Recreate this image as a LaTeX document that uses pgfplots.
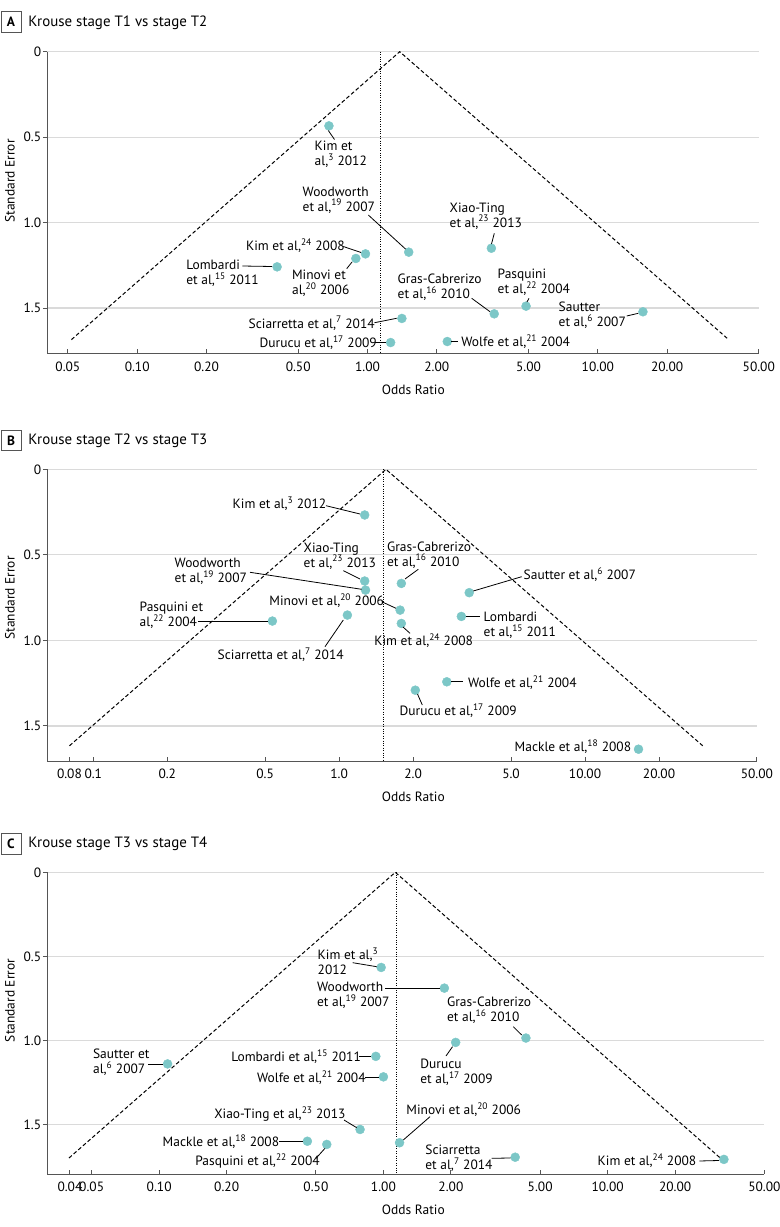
\documentclass[border=0pt]{standalone}
\usepackage{pgfplots}
\pgfplotsset{compat=1.18}
\usepackage{fontspec}
\setmainfont{PT Sans}
\definecolor{dot}{HTML}{7CC7C7}
\definecolor{axgray}{HTML}{555555}
\definecolor{gridgray}{HTML}{DADADA}
\newcommand{\labfont}{\fontsize{13.5}{15}\selectfont}
\newcommand{\lab}[3]{\node[anchor=west,align=left,inner sep=0pt,font=\labfont] at (#1,#2) {#3};}
\pgfplotsset{
 myfunnel/.style={
   scale only axis,
   y dir=reverse,
   ymin=0, xmax=50,
   clip=false,
   axis x line*=bottom, axis y line*=left,
   axis line style={axgray, line width=0.9bp, -},
   ytick={0,0.5,1,1.5}, yticklabels={0,0.5,1.0,1.5},
   ymajorgrids, grid style={gridgray, line width=1.2bp},
   xminorticks=false, yminorticks=false,
   tick align=inside,
   major tick length=4.5bp,
   tick style={axgray, line width=0.9bp},
   y tick style={xshift=-4.5bp},
   tick label style={font=\labfont},
   yticklabel style={inner sep=1.5bp, xshift=-4.5bp},
   xticklabel style={inner sep=0pt, yshift=-8bp},
 },
 mydots/.style={only marks, mark=*, mark size=4.5bp, mark options={fill=dot, draw=dot}},
 myfun/.style={black, line width=1bp, dash pattern=on 3.8bp off 2.4bp},
 myvdot/.style={black, line width=0.8bp, dash pattern=on 0.9bp off 1.5bp},
}
\begin{document}
\begin{tikzpicture}
\path[use as bounding box] (0,0) rectangle (780bp,-1227bp);

% ---------------- Panel A
\begin{axis}[xmode=log, log basis x=10, myfunnel, at={(47.3bp,-51.7bp)}, anchor=north west,
  width=711.5bp, height=301.6bp, xmin=0.0407, ymax=1.765,
  xtick={0.05,0.1,0.2,0.5,1,2,5,10,20,50},
  xticklabels={0.05,0.10,0.20,0.50,1.00,2.00,5.00,10.00,20.00,50.00}]
\addplot[myfun] coordinates {(0.0518,1.685) (1.38,0) (37.0,1.685)};
\addplot[myvdot] coordinates {(1.14,0) (1.14,1.765)};
\addplot[mydots] coordinates {
 (0.68,0.434) (1.51,1.173) (3.45,1.150) (0.98,1.183) (0.89,1.210) (0.405,1.259)
 (3.55,1.534) (4.88,1.489) (15.7,1.522) (1.41,1.561) (1.26,1.702) (2.22,1.696)};
\end{axis}

% ---------------- Panel B
\begin{axis}[xmode=log, log basis x=10, myfunnel, at={(47.3bp,-469.3bp)}, anchor=north west,
  width=709.6bp, height=291.7bp, xmin=0.065, ymax=1.705,
  xtick={0.08,0.1,0.2,0.5,1,2,5,10,20,50},
  xticklabels={0.08,0.1,0.2,0.5,1.0,2.0,5.0,10.00,20.00,50.00}]
\addplot[myfun] coordinates {(0.080,1.616) (1.55,0) (30.1,1.616)};
\addplot[myvdot] coordinates {(1.51,0) (1.51,1.705)};
\addplot[mydots] coordinates {
 (1.27,0.267) (1.27,0.653) (1.28,0.706) (1.79,0.667) (3.38,0.721) (1.77,0.823)
 (1.79,0.901) (3.14,0.860) (0.535,0.887) (1.08,0.852) (2.74,1.242) (2.04,1.291)
 (16.5,1.636)};
\end{axis}

% ---------------- Panel C
\begin{axis}[xmode=log, log basis x=10, myfunnel, at={(47.3bp,-872.3bp)}, anchor=north west,
  width=717.1bp, height=301.7bp, xmin=0.0317, ymax=1.795,
  xtick={0.04,0.05,0.1,0.2,0.5,1,2,5,10,20,50},
  xticklabels={0.04,0.05,0.10,0.20,0.50,1.00,2.00,5.00,10.00,20.00,50.00}]
\addplot[myfun] coordinates {(0.0396,1.70) (1.13,0) (31.8,1.70)};
\addplot[myvdot] coordinates {(1.145,0) (1.145,1.795)};
\addplot[mydots] coordinates {
 (0.977,0.566) (1.87,0.689) (4.32,0.986) (2.10,1.012) (0.109,1.140) (0.925,1.095)
 (1.00,1.217) (0.787,1.530) (0.458,1.600) (0.559,1.619) (1.18,1.609) (3.87,1.695)
 (33.0,1.708)};
\end{axis}

\begin{scope}[x=1bp,y=-1bp]
% titles
\foreach \yy/\tt/\ll in {11.7/Krouse stage T1 vs stage T2/A, 430/Krouse stage T2 vs stage T3/B, 833.3/Krouse stage T3 vs stage T4/C}{
  \draw[axgray, line width=0.8bp] (1,\yy) rectangle (21,\yy+20.6);
  \node[font=\fontsize{13.5}{15}\selectfont\bfseries, inner sep=0pt] at (11,\yy+10.3) {\ll};
  \node[anchor=west, inner sep=0pt, font=\fontsize{15}{17}\selectfont] at (28.3,\yy+10.6) {\tt};
}
% axis labels
\foreach \yy in {181,598,1000.5}{
  \node[rotate=90, inner sep=0pt, font=\labfont] at (10,\yy) {Standard Error};
}
\foreach \yy in {390,796.7,1210}{
  \node[inner sep=0pt, font=\labfont] at (413.3,\yy) {Odds Ratio};
}

\begin{scope}[line width=0.8bp, black]
% ---- Panel A labels
\lab{314.3}{154.2}{Kim et\\al,\textsuperscript{3} 2012}
\draw (328.3,130.5) -- (334.5,139.5);
\lab{302.3}{200}{Woodworth\\et al,\textsuperscript{19} 2007}
\draw (368.3,215) -- (405.5,249);
\lab{449.3}{215.8}{Xiao-Ting\\et al,\textsuperscript{23} 2013}
\draw (494.3,233.3) -- (491.5,244);
\lab{245.7}{246}{Kim et al,\textsuperscript{24} 2008}
\draw (343.3,246.5) -- (361,252.5);
\lab{186}{273.3}{Lombardi\\et al,\textsuperscript{15} 2011}
\draw (242.3,266) -- (272,266.5);
\lab{291.7}{283.7}{Minovi et\\al,\textsuperscript{20} 2006}
\draw (346.7,268.7) -- (352,262);
\lab{397.3}{287.5}{Gras-Cabrerizo\\et al,\textsuperscript{16} 2010}
\draw (471.7,298.3) -- (490,311.7);
\lab{497.3}{282.2}{Pasquini\\et al,\textsuperscript{22} 2004}
\draw (529,298.3) -- (527,302);
\lab{558.3}{315.2}{Sautter\\et al,\textsuperscript{6} 2007}
\draw (626.7,316) -- (638.3,313.3);
\lab{248.3}{323.3}{Sciarretta et al,\textsuperscript{7} 2014}
\draw (374.5,322.7) -- (396.7,318.3);
\lab{259.3}{342.7}{Durucu et al,\textsuperscript{17} 2009}
\draw (375,342.7) -- (386,342.7);
\lab{461}{341.7}{Wolfe et al,\textsuperscript{21} 2004}
\draw (451,341.7) -- (458.3,341.7);
% ---- Panel B labels
\lab{232.3}{504}{Kim et al,\textsuperscript{3} 2012}
\draw (326,505.7) -- (360,514);
\lab{303.3}{555.8}{Xiao-Ting\\et al,\textsuperscript{23} 2013}
\draw (343.3,570.7) -- (360,579);
\lab{174.3}{571.2}{Woodworth\\et al,\textsuperscript{19} 2007}
\draw (250,572.3) -- (361.7,589.3);
\lab{386.7}{554.8}{Gras-Cabrerizo\\et al,\textsuperscript{16} 2010}
\draw (418.3,569.3) -- (405,579);
\lab{523.3}{575}{Sautter et al,\textsuperscript{6} 2007}
\draw (521.7,576.7) -- (473.3,591);
\lab{269}{601}{Minovi et al,\textsuperscript{20} 2006}
\draw (381.7,601.7) -- (396,608.3);
\lab{374}{641}{Kim et al,\textsuperscript{24} 2008}
\draw (403,627) -- (410,633.3);
\lab{483.3}{625.5}{Lombardi\\et al,\textsuperscript{15} 2011}
\draw (465.5,616.3) -- (480,616.3);
\lab{139.3}{615}{Pasquini et\\al,\textsuperscript{22} 2004}
\draw (198.3,621.3) -- (268,621.3);
\lab{217.3}{655}{Sciarretta et al,\textsuperscript{7} 2014}
\draw (325,646.7) -- (343.3,620);
\lab{467.7}{682.7}{Wolfe et al,\textsuperscript{21} 2004}
\draw (451,681.7) -- (463.3,681.7);
\lab{399.3}{711}{Durucu et al,\textsuperscript{17} 2009}
\draw (417.5,694) -- (422.3,705);
\lab{514.3}{746.7}{Mackle et al,\textsuperscript{18} 2008}
% ---- Panel C labels
\lab{317.3}{961.3}{Kim et al,\textsuperscript{3}\\2012}
\draw (352.7,962.7) -- (376.7,966.7);
\lab{316.7}{995.5}{Woodworth\\et al,\textsuperscript{19} 2007}
\draw (385,988.3) -- (440,988.3);
\lab{446.7}{1010}{Gras-Cabrerizo\\et al,\textsuperscript{16} 2010}
\draw (513.3,1026.7) -- (521.7,1035);
\lab{420}{1072.5}{Durucu\\et al,\textsuperscript{17} 2009}
\draw (446,1056) -- (452.5,1046.7);
\lab{92.7}{1062.2}{Sautter et\\al,\textsuperscript{6} 2007}
\draw (148.3,1064.3) -- (163.4,1064.3);
\lab{231}{1056.7}{Lombardi et al,\textsuperscript{15} 2011}
\draw (359.3,1056.7) -- (371.4,1056.7);
\lab{256.7}{1077.3}{Wolfe et al,\textsuperscript{21} 2004}
\draw (365,1077.3) -- (379,1077.3);
\lab{214}{1114.3}{Xiao-Ting et al,\textsuperscript{23} 2013}
\draw (344,1120) -- (356.7,1127.7);
\lab{162.3}{1141.7}{Mackle et al,\textsuperscript{18} 2008}
\draw (279.3,1141.7) -- (303,1141.7);
\lab{195}{1160.7}{Pasquini et al,\textsuperscript{22} 2004}
\draw (316,1158.3) -- (325,1148.3);
\lab{406}{1109.3}{Minovi et al,\textsuperscript{20} 2006}
\draw (430,1116.7) -- (403.3,1140);
\lab{425}{1158}{Sciarretta\\et al,\textsuperscript{7} 2014}
\draw (491.7,1158.3) -- (510.7,1158);
\lab{597.3}{1161}{Kim et al,\textsuperscript{24} 2008}
\draw (699.3,1161) -- (719,1160.5);
\end{scope}
\end{scope}
\end{tikzpicture}
\end{document}
